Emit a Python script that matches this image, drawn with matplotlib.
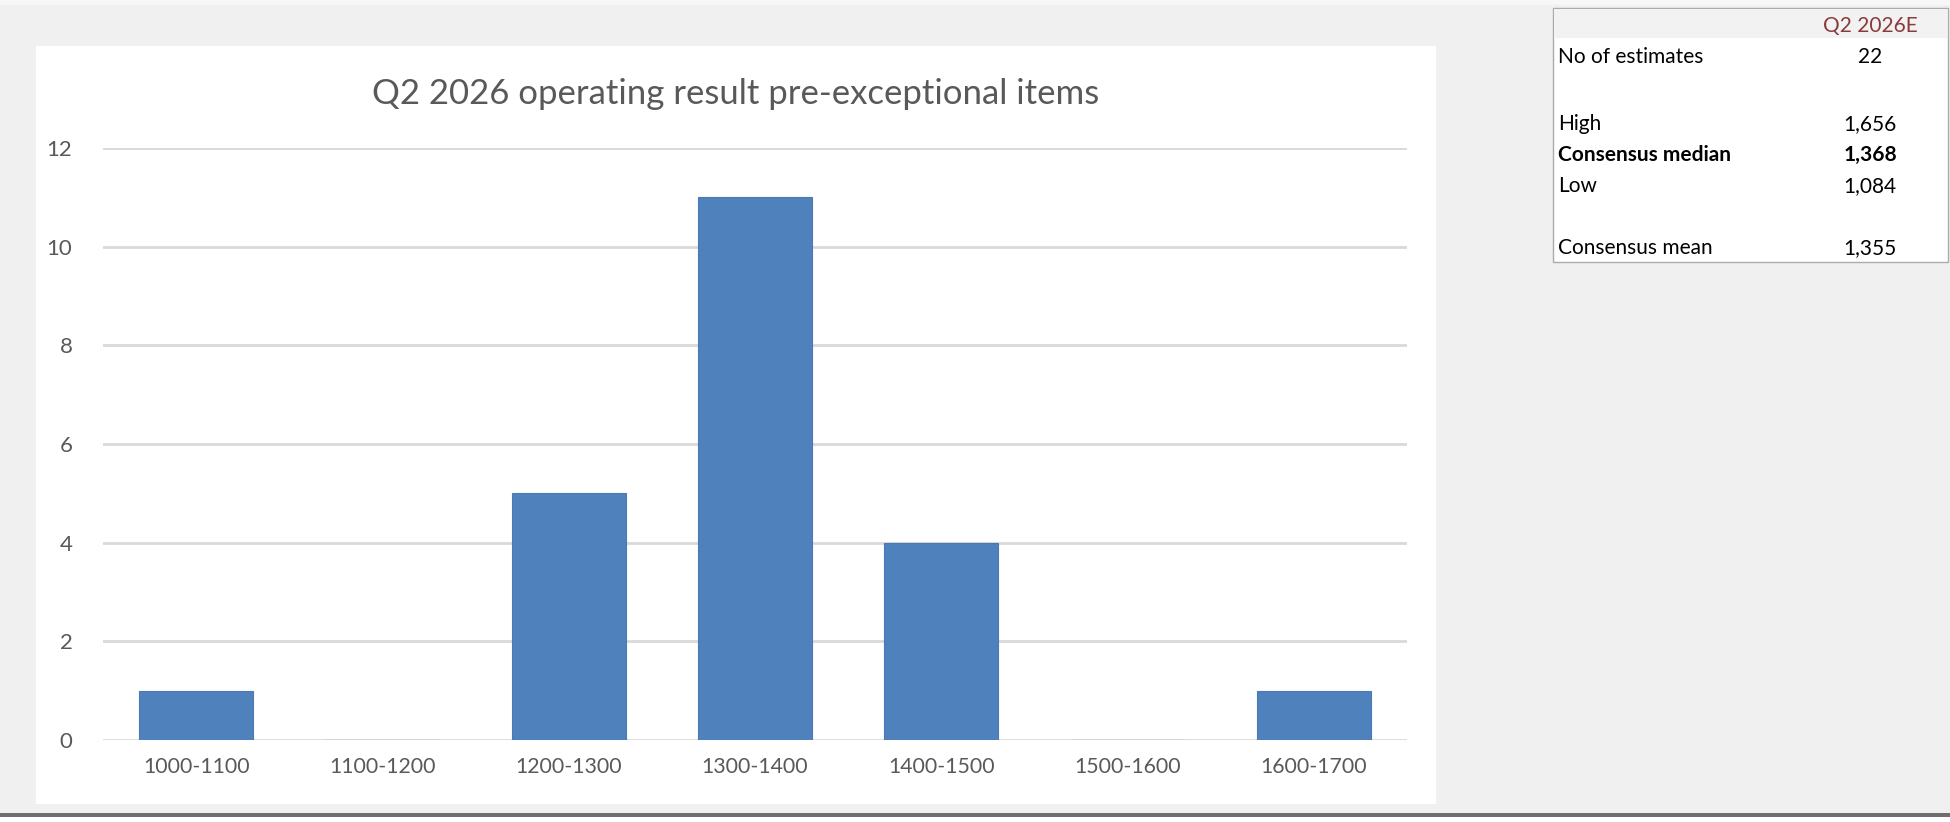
import matplotlib
matplotlib.use("Agg")
import matplotlib.pyplot as plt
from matplotlib.patches import Rectangle

# -- data
bins = ["1000-1100", "1100-1200", "1200-1300", "1300-1400", "1400-1500", "1500-1600", "1600-1700"]
counts = [1, 0, 5, 11, 4, 0, 1]
title = "Q2 2026 operating result pre-exceptional items"

table_header = "Q2 2026E"
table_labels = ["No of estimates", "High", "Consensus median", "Low", "Consensus mean"]
table_values = ["22", "1,656", "1,368", "1,084", "1,355"]
table_rows_y = [57, 124, 155, 186, 248]  # pixel rows in the table

W, H = 1950, 822
plt.rcParams['font.family'] = ['Lato', 'DejaVu Sans']

fig = plt.figure(figsize=(W / 100, H / 100), dpi=100)
fig.patch.set_facecolor("#F0F0F0")


def fx(x):
    return x / W


def fy(y):
    return 1 - y / H


def rect(x0, y0, x1, y1, **kw):
    fig.patches.append(Rectangle((fx(x0), fy(y1)), fx(x1) - fx(x0), fy(y0) - fy(y1),
                                 transform=fig.transFigure, **kw))


# frame strips / chart panel
rect(0, 0, W, 5, facecolor="#F7F7F7", edgecolor="none", zorder=-2)
rect(0, 813, W, 817, facecolor="#6E6E6E", edgecolor="none", zorder=-2)
rect(0, 817, W, H, facecolor="white", edgecolor="none", zorder=-2)
rect(36, 46, 1436, 804, facecolor="white", edgecolor="none", zorder=-2)

# plot area
ax = fig.add_axes([fx(103), fy(740), fx(1407) - fx(103), fy(148) - fy(740)])
ax.set_zorder(2)
ax.set_facecolor("none")
x = range(len(bins))
ax.bar(x, counts, width=0.612, color="#4F81BD", edgecolor="#4A7AB5", linewidth=0.8, zorder=3)
ax.set_xlim(-0.5, len(bins) - 0.5)
ax.set_ylim(0, 12)
ax.set_yticks(range(0, 13, 2))
ax.set_xticks(list(x))
ax.set_xticklabels(bins)
ax.yaxis.grid(True, color="#D9D9D9", linewidth=2)
ax.set_axisbelow(True)
for s in ax.spines.values():
    s.set_visible(False)
ax.tick_params(axis="both", length=0, colors="#595959")
ax.tick_params(axis="x", pad=12, labelsize=15.3)
ax.tick_params(axis="y", pad=22, labelsize=16)

fig.text(fx(736), fy(94), title, ha="center", va="center", fontsize=25,
         color="#595959")

# summary table
rect(1553, 8, 1948, 262, facecolor="white", edgecolor="#ABABAB", linewidth=1.0, zorder=1)
rect(1554, 9, 1947, 38, facecolor="#F2F2F2", edgecolor="none", zorder=1)
fig.text(fx(1870), fy(26), table_header, ha="center", va="center", fontsize=15, color="#8B3A3A")
for lab, val, yy in zip(table_labels, table_values, table_rows_y):
    bold = "bold" if lab == "Consensus median" else "normal"
    fig.text(fx(1558), fy(yy), lab, ha="left", va="center", fontsize=15, color="black", fontweight=bold)
    fig.text(fx(1870), fy(yy), val, ha="center", va="center", fontsize=15, color="black", fontweight=bold)

fig.savefig("out.png", dpi=100, facecolor=fig.get_facecolor())
